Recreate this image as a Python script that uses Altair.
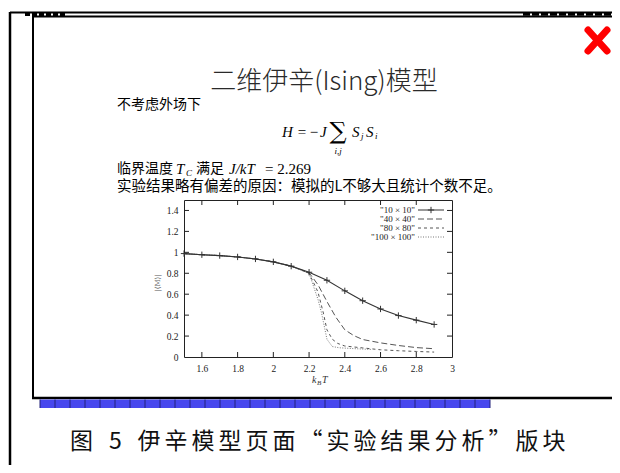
import altair as alt
import pandas as pd

# ---------------- data ----------------
T10 = [1.5, 1.6, 1.7, 1.8, 1.9, 2.0, 2.1, 2.2, 2.3, 2.4, 2.5, 2.6, 2.7, 2.8, 2.9]
M10 = [0.988, 0.977, 0.969, 0.956, 0.937, 0.909, 0.868, 0.810, 0.733, 0.632, 0.538, 0.459, 0.396, 0.352, 0.311]

T40 = [1.5, 1.6, 1.7, 1.8, 1.9, 2.0, 2.1, 2.2, 2.25, 2.3, 2.35, 2.4, 2.45, 2.5, 2.6, 2.7, 2.8, 2.9]
M40 = [0.988, 0.977, 0.969, 0.956, 0.937, 0.909, 0.868, 0.805, 0.69, 0.53, 0.38, 0.26, 0.205, 0.167, 0.135, 0.11, 0.09, 0.079]

T80 = [1.5, 1.6, 1.7, 1.8, 1.9, 2.0, 2.1, 2.2, 2.25, 2.28, 2.3, 2.33, 2.36, 2.4, 2.5, 2.6, 2.7, 2.8, 2.9]
M80 = [0.988, 0.977, 0.969, 0.956, 0.937, 0.909, 0.868, 0.80, 0.62, 0.42, 0.26, 0.17, 0.13, 0.105, 0.087, 0.069, 0.06, 0.053, 0.047]

T100 = [1.5, 1.6, 1.7, 1.8, 1.9, 2.0, 2.1, 2.2, 2.25, 2.27, 2.3, 2.33, 2.37, 2.45, 2.55]
M100 = [0.988, 0.977, 0.969, 0.956, 0.937, 0.909, 0.868, 0.80, 0.55, 0.42, 0.17, 0.10, 0.088, 0.08, 0.072]

SERIES = ['"10 × 10"', '"40 × 40"', '"80 × 80"', '"100 × 100"']
XTICKS = [1.6, 1.8, 2.0, 2.2, 2.4, 2.6, 2.8, 3.0]
YTICKS = [0, 0.2, 0.4, 0.6, 0.8, 1.0, 1.2, 1.4]

TITLE = "二维伊辛(Ising)模型"
LINE1 = "不考虑外场下"
LINE3 = "实验结果略有偏差的原因：模拟的L不够大且统计个数不足。"
CAPTION = "图 5 伊辛模型页面“实验结果分析”版块"

# ---------------- layout ----------------
PL, PT = 176, 192          # padding -> plot origin at page (184, 200)
W, H = 268, 157
OX, OY = PL + 8, PT + 8

CJK = "Noto Sans CJK SC"
SERIF = "Liberation Serif"
one = pd.DataFrame({"a": [0]})


def txt(s, x, y, size=14, font=CJK, align="left", baseline="middle",
        style="normal", weight="normal", color="black", angle=0):
    return alt.Chart(pd.DataFrame({"s": [s]})).mark_text(
        align=align, baseline=baseline, fontSize=size, font=font,
        fontStyle=style, fontWeight=weight, color=color, angle=angle
    ).encode(x=alt.value(x - OX), y=alt.value(y - OY), text="s:N")


def seg(x1, y1, x2, y2, w=2, color="black", dash=None, cap="butt"):
    kw = dict(strokeWidth=w, color=color, strokeCap=cap)
    if dash:
        kw["strokeDash"] = dash
    return alt.Chart(one).mark_rule(**kw).encode(
        x=alt.value(x1 - OX), y=alt.value(y1 - OY),
        x2=alt.value(x2 - OX), y2=alt.value(y2 - OY))


def box(x1, y1, x2, y2, fill):
    return alt.Chart(one).mark_rect(color=fill).encode(
        x=alt.value(x1 - OX), y=alt.value(y1 - OY),
        x2=alt.value(x2 - OX), y2=alt.value(y2 - OY))


XS = alt.Scale(domain=[1.5, 3], nice=False, zero=False)
YS = alt.Scale(domain=[0, 1.5], nice=False, zero=False)
xaxis = alt.Axis(values=XTICKS, format="~g", title=None, ticks=False, domain=False,
                 grid=False, labelFont=SERIF, labelFontSize=9.5, labelColor="#222",
                 labelPadding=6, labelOverlap=False, labelBound=False, labelFlush=False)
yaxis = alt.Axis(values=YTICKS, format="~g", title=None, ticks=False, domain=False,
                 grid=False, labelFont=SERIF, labelFontSize=9.5, labelColor="#222",
                 labelPadding=6, labelOverlap=False, labelBound=False, labelFlush=False)


def X(field="T"):
    return alt.X(f"{field}:Q", scale=XS, axis=xaxis)


def Y(field="M"):
    return alt.Y(f"{field}:Q", scale=YS, axis=yaxis)


def series(T, M, dash, color, width=1.0):
    df = pd.DataFrame({"T": T, "M": M})
    kw = dict(color=color, strokeWidth=width)
    if dash:
        kw["strokeDash"] = dash
    return alt.Chart(df).mark_line(**kw).encode(x=X(), y=Y())


PLUS = "M-1,0H1M0,-1V1"

layers = []

# ---------- slide frames ----------
layers.append(seg(10, 12.5, 612, 12.5, w=2))
layers.append(seg(10, 12, 10, 465, w=2.5))
layers.append(seg(33, 16.5, 612, 16.5, w=2))
layers.append(seg(33, 16, 33, 399, w=2))
layers.append(seg(32, 398, 612, 398, w=2.5))
# cut-off fragments of text at the very top
layers.append(seg(25, 14, 66, 14, w=4, dash=[5, 2]))
layers.append(seg(523, 14, 612, 14, w=3.5, dash=[7, 2]))

# blue strip below slide
layers.append(box(40, 399.5, 490, 408, "#4848ee"))
strip = pd.DataFrame({"px": [40 + 15 * k - OX for k in range(0, 31)]})
layers.append(alt.Chart(strip).mark_rule(color="#23237a", strokeWidth=1).encode(
    x=alt.X("px:Q", scale=None), y=alt.value(399.5 - OY), y2=alt.value(408 - OY)))

# red close mark
layers.append(seg(588, 30, 607, 51, w=7, color="#ff0000", cap="round"))
layers.append(seg(607, 30, 588, 51, w=7, color="#ff0000", cap="round"))

# ---------- slide texts ----------
layers.append(txt(TITLE, 324, 82, size=26, align="center", weight=300, color="#2a2a2a"))
layers.append(txt(LINE1, 117, 105, size=14))
# formula H = -J sum S_j S_i
layers.append(txt("H", 282, 132, size=15, font=SERIF, style="italic"))
layers.append(txt("=", 302, 132, size=15, font=SERIF, align="center"))
layers.append(txt("−", 314, 132, size=15, font=SERIF, align="center"))
layers.append(txt("J", 320, 132, size=15, font=SERIF, style="italic"))
layers.append(txt("∑", 338, 132, size=24, font="DejaVu Serif", align="center"))
layers.append(txt("i,j", 338, 151, size=9, font=SERIF, style="italic", align="center"))
layers.append(txt("S", 352, 132, size=15, font=SERIF, style="italic"))
layers.append(txt("j", 361, 136, size=9, font=SERIF, style="italic"))
layers.append(txt("S", 366, 132, size=15, font=SERIF, style="italic"))
layers.append(txt("i", 375, 136, size=9, font=SERIF, style="italic"))
# critical temperature line
layers.append(txt("临界温度", 117, 169, size=14))
layers.append(txt("T", 176, 169, size=15, font=SERIF, style="italic"))
layers.append(txt("C", 186, 173, size=9, font=SERIF, style="italic"))
layers.append(txt("满足", 196, 169, size=14))
layers.append(txt("J/kT", 229, 169, size=15, font=SERIF, style="italic"))
layers.append(txt("= 2.269", 265, 169, size=15, font=SERIF))
layers.append(txt(LINE3, 117, 187, size=14.5))

# caption with wide CJK pitch
pitch = 27.0
cx, rows = 68.0, []
for ch in CAPTION:
    w = 0.5 if ch in " 5" else 1.0
    rows.append({"c": ch, "px": cx + w * pitch / 2 - OX})
    cx += w * pitch
cap_df = pd.DataFrame(rows)
layers.append(alt.Chart(cap_df).mark_text(font=CJK, fontSize=23, baseline="middle",
                                          align="center", color="#111").encode(
    x=alt.X("px:Q", scale=None), y=alt.value(442 - OY), text="c:N"))

# ---------- plot ----------
layers.append(series(T100, M100, [1, 1.5], "#777", 1.0))
layers.append(series(T80, M80, [3, 3], "#555", 1.0))
layers.append(series(T40, M40, [6, 3], "#555", 1.0))
layers.append(series(T10, M10, None, "#333", 1.1))
layers.append(alt.Chart(pd.DataFrame({"T": T10, "M": M10})).mark_point(
    shape=PLUS, size=40, filled=False, strokeWidth=1, color="#333", opacity=1).encode(
    x=X(), y=Y()))

# inward tick marks on all four sides
xt = pd.DataFrame({"T": XTICKS[:-1]})
yt = pd.DataFrame({"M": YTICKS[1:]})
layers.append(alt.Chart(xt).mark_rule(color="#222", strokeWidth=1).encode(
    x=X(), y=alt.value(H), y2=alt.value(H - 5)))
layers.append(alt.Chart(xt).mark_rule(color="#222", strokeWidth=1).encode(
    x=X(), y=alt.value(0), y2=alt.value(5)))
layers.append(alt.Chart(yt).mark_rule(color="#222", strokeWidth=1).encode(
    y=Y(), x=alt.value(0), x2=alt.value(5)))
layers.append(alt.Chart(yt).mark_rule(color="#222", strokeWidth=1).encode(
    y=Y(), x=alt.value(W), x2=alt.value(W - 5)))

# legend (gnuplot style)
leg_y = [210, 219, 228, 237]
leg_dash = [None, [6, 3], [3, 3], [1, 1.5]]
leg_col = ["#333", "#555", "#555", "#777"]
for name, yy, dsh, col in zip(SERIES, leg_y, leg_dash, leg_col):
    layers.append(txt(name, 415, yy, size=9, font=SERIF, align="right", color="#222"))
    layers.append(seg(418, yy, 444, yy, w=1, color=col, dash=dsh))
layers.append(alt.Chart(one).mark_point(shape=PLUS, size=40, filled=False, strokeWidth=1,
                                        color="#333", opacity=1).encode(
    x=alt.value(431 - OX), y=alt.value(210 - OY)))

# axis titles
layers.append(txt("|⟨M⟩|", 158, 283, size=7, font="DejaVu Serif", align="center",
                  color="#666", angle=270))
layers.append(txt("k", 312, 380, size=10, font=SERIF, style="italic", color="#333"))
layers.append(txt("B", 317, 383, size=7, font=SERIF, style="italic", color="#333"))
layers.append(txt("T", 322, 380, size=10, font=SERIF, style="italic", color="#333"))

chart = alt.layer(*layers).properties(
    width=W, height=H,
    autosize=alt.AutoSizeParams(type="none"),
    padding={"left": PL, "top": PT, "right": 604 - PL - W, "bottom": 457 - PT - H},
    background="white",
).configure_view(stroke="#222", strokeWidth=1).configure_axis(
    labelOverlap=False, labelBound=False, labelFlush=False
)

chart.save("out.html", embed_options={"renderer": "svg", "actions": False})
